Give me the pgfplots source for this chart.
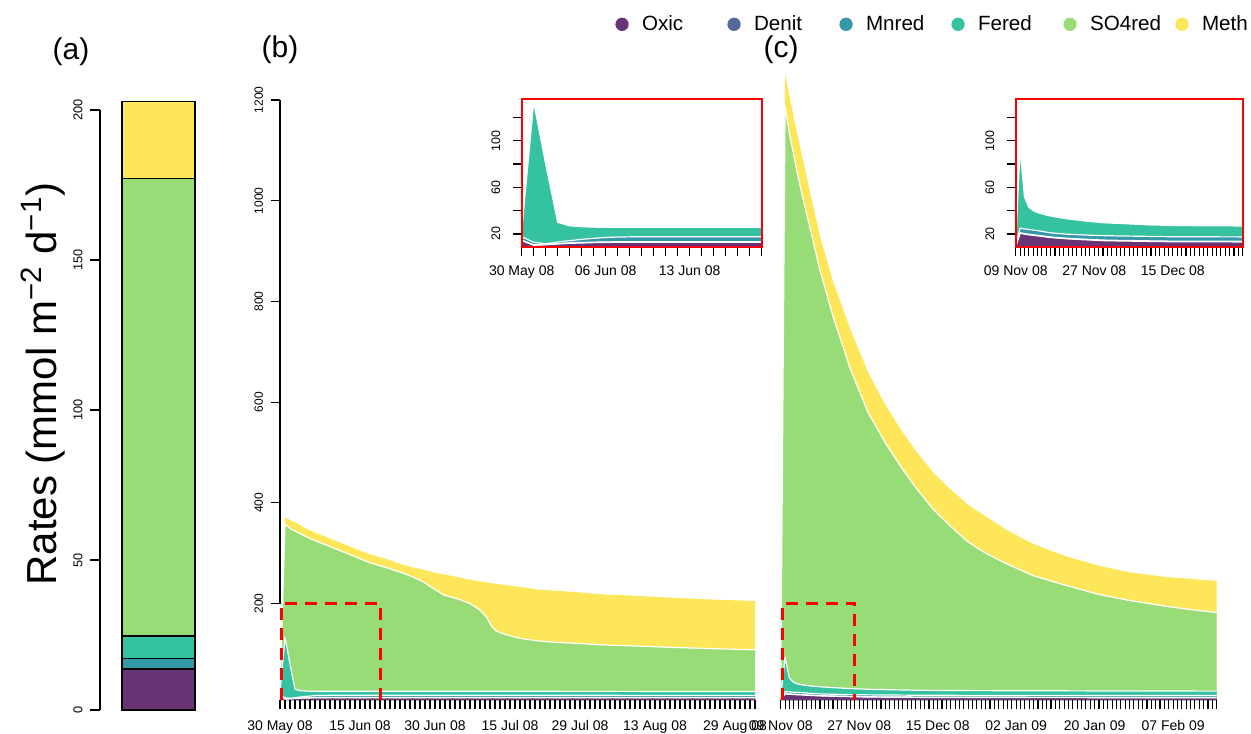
\documentclass[border=0pt]{standalone}
\usepackage{fontspec}
\setmainfont{Liberation Sans}
\usepackage{pgfplots}
\usepackage{pgfplotstable}
\pgfplotsset{compat=1.18}
\newcommand{\fs}[1]{\fontsize{#1}{#1}\selectfont}
\definecolor{coxic}{HTML}{693476}
\definecolor{cdenit}{HTML}{56699E}
\definecolor{cmnred}{HTML}{3598A8}
\definecolor{cfered}{HTML}{35C2A1}
\definecolor{cso}{HTML}{98DC78}
\definecolor{cmeth}{HTML}{FDE65A}

% panel (b): cumulative tops of the stacked layers
\pgfplotstableread{
day O D M F S T
0 14.3 14.7 17.7 23.0 23 23
1 10.3 10.7 12.9 133.0 358 371
2 10.8 11.1 11.6 80.0 349 366
3 11.4 11.8 13.1 30.0 344 361
4 12.0 12.4 14.3 27.0 339 356
5 12.3 12.7 15.4 26.3 334 350
6 12.6 13.0 16.3 25.9 329 345
7 12.8 13.2 17.0 25.7 325 341
8 12.9 13.3 17.4 25.7 321 337
10 12.9 13.3 17.7 25.7 313 329
12 12.9 13.3 17.7 25.7 305 321
14 12.9 13.3 17.7 25.7 297 313
16 12.9 13.3 17.7 25.7 289 305
18 12.9 13.3 17.7 25.7 281 298
20 12.9 13.3 17.7 25.7 275 292
22 12.9 13.3 17.7 25.7 269 286
24.7 12.9 13.3 17.7 25.7 260 276.5
26.5 12.9 13.3 17.7 25.7 253 272
28.7 12.9 13.3 17.7 25.7 243 267
30 12.9 13.3 17.7 25.7 234 264
31 12.9 13.3 17.7 25.7 228 261
32.7 12.9 13.3 17.7 25.7 217 258
35.3 12.9 13.3 17.7 25.7 210 253
38 12.9 13.3 17.7 25.7 200 247
40 12.9 13.3 17.7 25.7 187 244
41.3 12.9 13.3 17.7 25.7 173 242
42.3 12.9 13.3 17.7 25.7 155 240.5
43.3 12.9 13.3 17.7 25.7 145 239
44.7 12.9 13.3 17.7 25.7 139.6 237
46 12.9 13.3 17.7 25.6 136 235.5
48 12.9 13.3 17.7 25.6 131 233
51.3 12.9 13.3 17.7 25.6 126 228
55 12.9 13.3 17.7 25.6 123 225.5
60 12.9 13.3 17.7 25.5 120.5 222
64.7 12.9 13.3 17.7 25.5 117.6 218
70 12.9 13.3 17.6 25.5 116 216
78 12.9 13.3 17.6 25.4 113 211.6
86 12.9 13.3 17.6 25.4 110.5 208
95 12.9 13.3 17.6 25.4 108 205
}\tabB

% panel (c): cumulative tops of the stacked layers
\pgfplotstableread{
day O D M F S T
0 9.0 9.5 11.5 13.0 13 13
1 20.6 21.1 25.0 93.0 1188 1252
2 19.9 20.4 24.4 52.0 1133 1208
3 19.3 19.8 23.9 43.0 1090 1165
4 18.8 19.3 23.4 40.0 1047 1123
5 18.4 18.9 22.9 38.3 1008 1085
7 17.4 17.9 21.6 36.2 935 1006
9 16.6 17.1 20.6 34.7 862 930
12 15.8 16.3 19.8 32.9 770 840
16 15.0 15.5 19.1 31.1 665 744
20 14.3 14.8 18.6 29.7 580 660
24 14.0 14.5 18.3 29.0 519 594
28 13.8 14.3 18.1 28.3 466 540
31 13.6 14.1 17.9 27.8 430 503
35 13.4 13.9 17.7 27.4 387 460
39 13.35 13.85 17.65 27.2 353 426
43 13.3 13.8 17.6 27.1 322 396
47 13.25 13.75 17.55 27.0 300 373
52 13.2 13.7 17.5 26.9 278 345
58 13.15 13.65 17.45 26.8 255 318
65 13.1 13.6 17.4 26.6 237 295
73 13.05 13.55 17.35 26.4 218 275
80 13.0 13.5 17.3 26.3 206 262
88 13.0 13.5 17.3 26.2 195 253
94 13.0 13.5 17.3 26.1 188 249
100 13.0 13.5 17.3 26.0 182 245
}\tabC

\pgfplotsset{
  base/.style={scale only axis, anchor=south west,
    /pgf/number format/assume math mode=true,
    /pgf/number format/1000 sep={},
    every tick/.style={black, line width=0.55pt},
    tick align=outside, axis on top},
  lay/.style={fill=#1, draw=none},
  sep/.style={white, line width=0.6pt, line join=round},
}

\begin{document}
\begin{tikzpicture}
\path[use as bounding box] (0,0) rectangle (625.5pt,366.5pt);

% ---------- (a) ----------
\begin{axis}[base, at={(50pt,11.5pt)}, width=58.5pt, height=300pt,
  xmin=0, xmax=1, ymin=0, ymax=200, clip=false,
  axis lines*=left, x axis line style={draw=none}, y axis line style={line width=0.55pt},
  xtick=\empty, ytick={0,50,100,150,200}, major tick length=5pt,
  yticklabel style={xshift=-3.5pt, rotate=90, anchor=south, inner sep=0pt, font=\fs{6.4}},
  ybar stacked, bar width=36.5pt]
\addplot[fill=coxic, draw=black, line width=0.6pt] coordinates {(0.5,13.6)};
\addplot[fill=cdenit, draw=black, line width=0.6pt] coordinates {(0.5,0.3)};
\addplot[fill=cmnred, draw=black, line width=0.6pt] coordinates {(0.5,3.4)};
\addplot[fill=cfered, draw=black, line width=0.6pt] coordinates {(0.5,7.4)};
\addplot[fill=cso, draw=black, line width=0.6pt] coordinates {(0.5,152.5)};
\addplot[fill=cmeth, draw=black, line width=0.6pt] coordinates {(0.5,25.5)};
\end{axis}

% ---------- (b) ----------
\begin{axis}[base, at={(140pt,16.4pt)}, width=237.5pt, height=300.1pt,
  xmin=0, xmax=95, ymin=8, ymax=1200,
  axis lines*=left, x axis line style={draw=none},
  y axis line style={shorten <=48.34pt, line width=0.55pt},
  ytick={200,400,...,1200}, major tick length=4.6pt, minor tick length=4.6pt,
  yticklabel style={xshift=-3.75pt, rotate=90, anchor=south, inner sep=0pt, font=\fs{6}},
  xtick={0,16,31,46,60,75,91},
  xticklabels={30 May 08,15 Jun 08,30 Jun 08,15 Jul 08,29 Jul 08,13 Aug 08,29 Aug 08},
  minor xtick={0,1,...,95},
  xticklabel style={anchor=base, yshift=-10.3pt, inner sep=0pt, font=\fs{7}}]
\addplot[lay=cmeth] table[x=day,y=T]{\tabB} \closedcycle;
\addplot[lay=cso] table[x=day,y=S]{\tabB} \closedcycle;
\addplot[lay=cfered] table[x=day,y=F]{\tabB} \closedcycle;
\addplot[lay=cmnred] table[x=day,y=M]{\tabB} \closedcycle;
\addplot[lay=cdenit] table[x=day,y=D]{\tabB} \closedcycle;
\addplot[lay=coxic] table[x=day,y=O]{\tabB} \closedcycle;
\addplot[sep] table[x=day,y=S]{\tabB};
\addplot[sep] table[x=day,y=F]{\tabB};
\addplot[sep] table[x=day,y=M]{\tabB};
\addplot[sep] table[x=day,y=D]{\tabB};
\addplot[sep] table[x=day,y=O]{\tabB};
\addplot[red, line width=1.5pt, dash pattern=on 6pt off 4pt] coordinates {(0.3,8) (0.3,200) (20,200) (20,8)};
\end{axis}

% ---------- (c) ----------
\begin{axis}[base, at={(390.35pt,16.4pt)}, width=218pt, height=315.2pt,
  xmin=0, xmax=100, ymin=8, ymax=1260,
  axis lines*=left, x axis line style={draw=none}, y axis line style={draw=none},
  ytick=\empty, major tick length=4.6pt, minor tick length=4.6pt,
  xtick={0,18,36,54,72,90},
  xticklabels={09 Nov 08,27 Nov 08,15 Dec 08,02 Jan 09,20 Jan 09,07 Feb 09},
  minor xtick={0,1,...,100},
  xticklabel style={anchor=base, yshift=-10.3pt, inner sep=0pt, font=\fs{7}}]
\addplot[lay=cmeth] table[x=day,y=T]{\tabC} \closedcycle;
\addplot[lay=cso] table[x=day,y=S]{\tabC} \closedcycle;
\addplot[lay=cfered] table[x=day,y=F]{\tabC} \closedcycle;
\addplot[lay=cmnred] table[x=day,y=M]{\tabC} \closedcycle;
\addplot[lay=cdenit] table[x=day,y=D]{\tabC} \closedcycle;
\addplot[lay=coxic] table[x=day,y=O]{\tabC} \closedcycle;
\addplot[sep] table[x=day,y=S]{\tabC};
\addplot[sep] table[x=day,y=F]{\tabC};
\addplot[sep] table[x=day,y=M]{\tabC};
\addplot[sep] table[x=day,y=D]{\tabC};
\addplot[sep] table[x=day,y=O]{\tabC};
\addplot[red, line width=1.5pt, dash pattern=on 6pt off 4pt] coordinates {(0.35,8) (0.35,200) (17,200) (17,8)};
\end{axis}

% ---------- inset (b) ----------
\begin{axis}[base, at={(260.85pt,242.85pt)}, width=120pt, height=74pt,
  xmin=0, xmax=20, ymin=8.6, ymax=135.5,
  axis line style={red, line width=1pt}, tick pos=left,
  major tick length=4.4pt, minor tick length=4.4pt,
  ytick={20,40,60,80,100,120}, yticklabels={20,,60,,100,},
  yticklabel style={xshift=-6.1pt, rotate=90, anchor=south, inner sep=0pt, font=\fs{6.2}},
  xtick={0,7,14}, xticklabels={30 May 08,06 Jun 08,13 Jun 08},
  minor xtick={0,1,...,20},
  xticklabel style={anchor=base, yshift=-9.9pt, inner sep=0pt, font=\fs{7}}]
\addplot[lay=cfered] table[x=day,y=F]{\tabB} \closedcycle;
\addplot[lay=cmnred] table[x=day,y=M]{\tabB} \closedcycle;
\addplot[lay=cdenit] table[x=day,y=D]{\tabB} \closedcycle;
\addplot[lay=coxic] table[x=day,y=O]{\tabB} \closedcycle;
\addplot[sep] table[x=day,y=F]{\tabB};
\addplot[sep] table[x=day,y=M]{\tabB};
\addplot[sep] table[x=day,y=D]{\tabB};
\addplot[sep] table[x=day,y=O]{\tabB};
\end{axis}

% ---------- inset (c) ----------
\begin{axis}[base, at={(507.85pt,242.85pt)}, width=113.5pt, height=74pt,
  xmin=0, xmax=52, ymin=8.6, ymax=135.5,
  axis line style={red, line width=1pt}, tick pos=left,
  major tick length=4.4pt, minor tick length=4.4pt,
  ytick={20,40,60,80,100,120}, yticklabels={20,,60,,100,},
  yticklabel style={xshift=-6.1pt, rotate=90, anchor=south, inner sep=0pt, font=\fs{6.2}},
  xtick={0,18,36}, xticklabels={09 Nov 08,27 Nov 08,15 Dec 08},
  minor xtick={0,1,...,52},
  xticklabel style={anchor=base, yshift=-9.9pt, inner sep=0pt, font=\fs{7}}]
\addplot[lay=cfered] table[x=day,y=F]{\tabC} \closedcycle;
\addplot[lay=cmnred] table[x=day,y=M]{\tabC} \closedcycle;
\addplot[lay=cdenit] table[x=day,y=D]{\tabC} \closedcycle;
\addplot[lay=coxic] table[x=day,y=O]{\tabC} \closedcycle;
\addplot[sep] table[x=day,y=F]{\tabC};
\addplot[sep] table[x=day,y=M]{\tabC};
\addplot[sep] table[x=day,y=D]{\tabC};
\addplot[sep] table[x=day,y=O]{\tabC};
\end{axis}

% ---------- legend ----------
\begin{axis}[hide axis, scale only axis, at={(0pt,0pt)}, anchor=south west,
  width=625.5pt, height=366.5pt, xmin=0, xmax=1, ymin=0, ymax=1,
  legend columns=6,
  legend image code/.code={\fill[#1] (0pt,0pt) circle (3.33pt);},
  legend style={at={(0.4916,0.9668)}, anchor=west, draw=none, fill=none,
    inner sep=0pt, font=\fs{10.3},
    /tikz/every odd column/.append style={column sep=6.67pt},
    nodes={inner sep=0pt}}]
\addlegendimage{fill=coxic, draw=none}
\addlegendentry{\makebox[42.67pt][l]{Oxic}}
\addlegendimage{fill=cdenit, draw=none}
\addlegendentry{\makebox[42.67pt][l]{Denit}}
\addlegendimage{fill=cmnred, draw=none}
\addlegendentry{\makebox[42.67pt][l]{Mnred}}
\addlegendimage{fill=cfered, draw=none}
\addlegendentry{\makebox[42.67pt][l]{Fered}}
\addlegendimage{fill=cso, draw=none}
\addlegendentry{\makebox[42.67pt][l]{SO4red}}
\addlegendimage{fill=cmeth, draw=none}
\addlegendentry{\makebox[22pt][l]{Meth}}
\end{axis}

\node[font=\fs{15}] at (35.5pt,340.5pt) {(a)};
\node[font=\fs{15}] at (140pt,341.5pt) {(b)};
\node[font=\fs{15}] at (390.5pt,341.5pt) {(c)};
\node[font=\fs{21}, rotate=90] at (21.5pt,174.5pt) {Rates (mmol m\textsuperscript{−2} d\textsuperscript{−1})};
\end{tikzpicture}
\end{document}
